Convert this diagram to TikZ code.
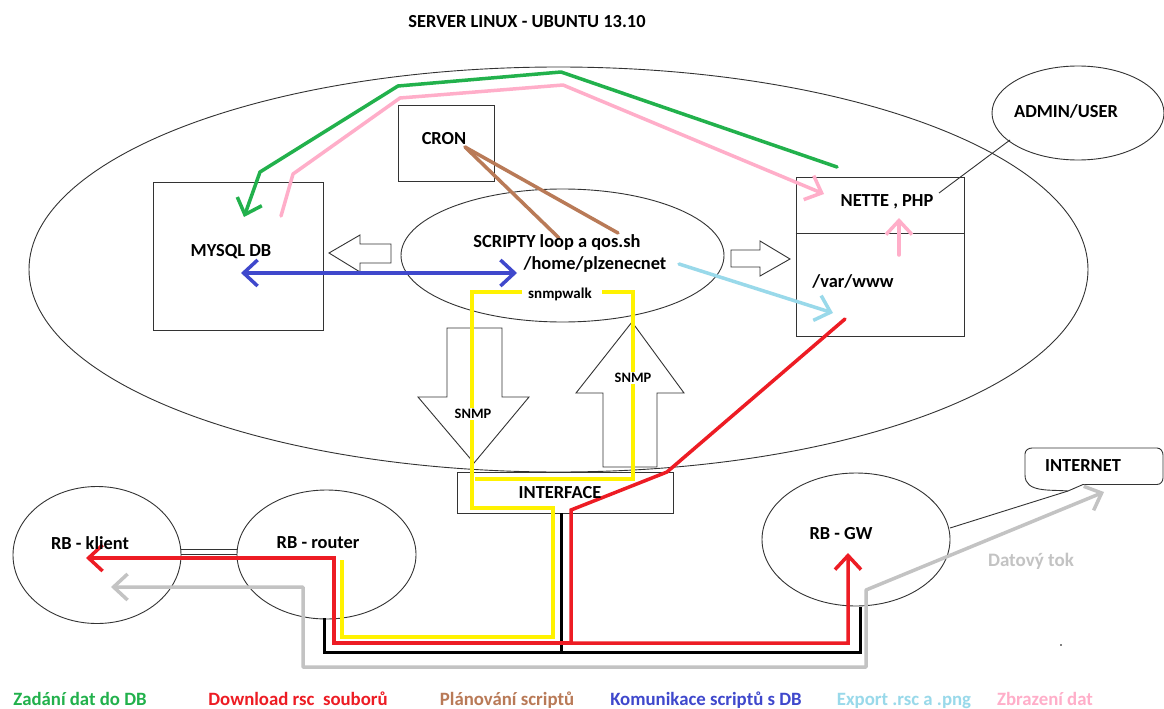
\documentclass[tikz,border=0pt]{standalone}
\usepackage{fontspec}
\setmainfont{Carlito}
\usetikzlibrary{arrows.meta,shapes.geometric}

\definecolor{pgreen}{RGB}{34,177,76}
\definecolor{ppink}{RGB}{255,174,201}
\definecolor{pred}{RGB}{237,28,36}
\definecolor{pbrown}{RGB}{185,122,87}
\definecolor{pblue}{RGB}{63,72,204}
\definecolor{plblue}{RGB}{153,217,234}
\definecolor{pyellow}{RGB}{255,242,0}
\definecolor{pgray}{RGB}{195,195,195}

\tikzset{
  outline/.style={draw=black!80, line width=0.9pt},
  boxnode/.style={rectangle, outline, inner sep=0pt},
  ellnode/.style={ellipse, outline, inner sep=0pt},
  flow/.style={line width=3.5pt, line cap=round, line join=round},
  bus/.style={line width=3pt, line join=miter},
  barb/.style={-{Straight Barb[length=14pt,width=26pt]}},
  dbarb/.style={{Straight Barb[length=14pt,width=26pt]}-{Straight Barb[length=14pt,width=26pt]}},
  lbl/.style={font=\fontsize{18.4}{20}\selectfont\bfseries, inner sep=0pt},
  smalllbl/.style={font=\fontsize{14.4}{16}\selectfont\bfseries, inner sep=1pt},
  legend/.style={font=\fontsize{18.8}{20}\selectfont\bfseries, inner sep=0pt, anchor=base},
}

\begin{document}
\begin{tikzpicture}[x=1pt,y=-1pt]
\useasboundingbox (0,0) rectangle (1164,709);
\fill[white] (0,0) rectangle (1164,709);

% ---- shapes ----
\node[ellnode, minimum width=1059pt, minimum height=405pt] (server) at (558.5,269.5) {};
\node[ellnode, minimum width=172pt, minimum height=94pt] (admin) at (1078,113) {};
\node[boxnode, minimum width=170pt, minimum height=148pt] (mysql) at (238,256) {};
\node[boxnode, minimum width=96pt, minimum height=76pt] (cron) at (446,143) {};
\node[ellnode, minimum width=323pt, minimum height=133pt] (scripty) at (562.5,255.5) {};
\node[boxnode, minimum width=168pt, minimum height=159pt] (nette) at (880,256.5) {};
\coordinate (div) at (0,233);
\draw[outline] (nette.west |- div) -- (nette.east |- div);
\node[boxnode, minimum width=216pt, minimum height=41pt] (iface) at (565,492.5) {};
\node[ellnode, minimum width=168pt, minimum height=137pt] (klient) at (97,555) {};
\node[ellnode, minimum width=179pt, minimum height=129pt] (router) at (326.5,554.5) {};
\node[ellnode, minimum width=188pt, minimum height=133pt] (gw) at (856,539.5) {};

% block arrows
\draw[outline] (391,244) -- (360,244) -- (360,235) -- (329,253) -- (360,272) -- (360,263) -- (391,263) -- cycle;
\draw[outline] (731,250) -- (760,250) -- (760,241) -- (790,259) -- (760,276) -- (760,267) -- (731,267) -- cycle;
\draw[outline] (447,328) -- (502,328) -- (502,397) -- (529,397) -- (474,463) -- (418,397) -- (447,397) -- cycle;
\draw[outline] (632,322) -- (684,393) -- (657,393) -- (657,467) -- (603,467) -- (603,393) -- (576,393) -- cycle;

% internet callout
\coordinate (tail) at (1068,491);
\draw[outline] (tail) -- (1083,484.5) -- (1157,484.5) to[out=0,in=-90] (1163,478)
  -- (1163,455) to[out=90,in=0] (1157,448) -- (1032,448) to[out=180,in=90] (1025,454)
  -- (1025,475) to[out=-90,in=175] (tail);

% thin links
\coordinate (a0) at (1010,140);
\coordinate (a1) at (939,193);
\draw[outline] (a0) -- (a1);
\coordinate (gwe) at (950,528);
\draw[outline] (gwe) -- (tail);
\coordinate (kr1) at (181,549); \coordinate (kr2) at (237,549);
\coordinate (kr3) at (181,554); \coordinate (kr4) at (237,554);
\draw[outline] (kr1) -- (kr2);
\draw[outline] (kr3) -- (kr4);

% ---- cabling ----
\coordinate (t0) at (561,513); \coordinate (t1) at (561,652);
\coordinate (t2) at (324,618); \coordinate (t3) at (324,652);
\coordinate (t4) at (860,652); \coordinate (t5) at (860,607);
\draw[bus] (t0) -- (t1);
\draw[bus] (t2) -- (t3) -- (t4) -- (t5);

% data flow (gray)
\coordinate (d0) at (111,587); \coordinate (d1) at (303,587);
\coordinate (d2) at (303,667); \coordinate (d3) at (866,667);
\coordinate (d4) at (866,590); \coordinate (d5) at (1104,492);
\draw[flow, pgray, line cap=butt, dbarb] (d0) -- (d1) -- (d2) -- (d3) -- (d4) -- (d5);

% snmpwalk (yellow)
\coordinate (y0) at (522,292); \coordinate (y1) at (472,292);
\coordinate (y2) at (472,508); \coordinate (y3) at (553,508);
\coordinate (y4) at (553,637); \coordinate (y5) at (342,637);
\coordinate (y6) at (342,560);
\coordinate (y7) at (602,292); \coordinate (y8) at (633,292);
\coordinate (y9) at (633,479); \coordinate (y10) at (475,479);
\draw[flow, pyellow, line cap=butt, line join=miter] (y0) -- (y1) -- (y2) -- (y3) -- (y4) -- (y5) -- (y6);
\draw[flow, pyellow, line cap=butt, line join=miter] (y7) -- (y8) -- (y9) -- (y10);

% download rsc (red)
\coordinate (r0) at (845,319); \coordinate (r1) at (667,472);
\coordinate (r2) at (571,510); \coordinate (r3) at (571,643);
\coordinate (r4) at (848,643); \coordinate (r5) at (848,553);
\coordinate (r6) at (334,643); \coordinate (r7) at (334,558);
\coordinate (r8) at (86,558);
\draw[flow, pred, line join=miter, barb] (r0) -- (r1) -- (r2) -- (r3) -- (r4) -- (r5);
\draw[flow, pred, line join=miter, barb] (r3) -- (r6) -- (r7) -- (r8);

% data entry into DB (green)
\coordinate (g0) at (837,167); \coordinate (g1) at (561,72);
\coordinate (g2) at (398,86); \coordinate (g3) at (260,172);
\coordinate (g4) at (244,217);
\draw[flow, pgreen, barb] (g0) -- (g1) -- (g2) -- (g3) -- (g4);

% data display (pink)
\coordinate (p0) at (281,216); \coordinate (p1) at (293,174);
\coordinate (p2) at (400,98); \coordinate (p3) at (563,85);
\coordinate (p4) at (824,194);
\draw[flow, ppink, barb] (p0) -- (p1) -- (p2) -- (p3) -- (p4);
\coordinate (p5) at (899,255); \coordinate (p6) at (899,218);
\draw[flow, ppink, barb] (p5) -- (p6);

% scheduling (brown)
\coordinate (cr) at (465,147);
\coordinate (k1) at (559,238); \coordinate (k2) at (618,233);
\draw[flow, pbrown] (cr) -- (k1);
\draw[flow, pbrown] (cr) -- (k2);

% scripts <-> DB (blue)
\coordinate (b0) at (241,273); \coordinate (b1) at (517,273);
\draw[flow, pblue, dbarb] (b0) -- (b1);

% export (light blue)
\coordinate (c0) at (679,264); \coordinate (c1) at (833,313);
\draw[flow, plblue, barb] (c0) -- (c1);

% ---- labels ----
\node[lbl] (title) at (527,22) {SERVER LINUX - UBUNTU 13.10};
\node[lbl] (tcron) at (444,139) {CRON};
\node[lbl] (tmysql) at (231,252) {MYSQL DB};
\node[lbl] (tscr1) at (557,242) {SCRIPTY loop a qos.sh};
\node[lbl] (tscr2) at (595,264) {/home/plzenecnet};
\node[smalllbl, font=\fontsize{15}{16}\selectfont\bfseries] (twalk) at (560,294) {snmpwalk};
\node[lbl] (tnette) at (887,202) {NETTE , PHP};
\node[lbl] (twww) at (853,281) {/var/www};
\node[lbl] (tadmin) at (1066,111) {ADMIN/USER};
\node[smalllbl, fill=white] (tsnmp1) at (473,414) {SNMP};
\node[smalllbl, fill=white] (tsnmp2) at (633,378) {SNMP};
\node[lbl] (tiface) at (560,493) {INTERFACE};
\node[lbl] (tklient) at (90,543) {RB - klient};
\node[lbl] (trouter) at (318,543) {RB - router};
\node[lbl] (tgw) at (841,534) {RB - GW};
\node[lbl] (tnet) at (1083,466) {INTERNET};
\node[lbl, font=\fontsize{19}{20}\selectfont\bfseries, text=pgray] (ttok) at (1031,561) {Datový tok};
\fill (1061,645) circle (0.8pt);

% legend
\node[legend, text=pgreen] (l1) at (80,705) {Zadání dat do DB};
\node[legend, text=pred] (l2) at (298,705) {Download rsc\ \ souborů};
\node[legend, text=pbrown] (l3) at (507,705) {Plánování scriptů};
\node[legend, text=pblue] (l4) at (706,705) {Komunikace scriptů s DB};
\node[legend, text=plblue] (l5) at (904,705) {Export .rsc a .png};
\node[legend, text=ppink] (l6) at (1045,705) {Zbrazení dat};
\end{tikzpicture}
\end{document}
